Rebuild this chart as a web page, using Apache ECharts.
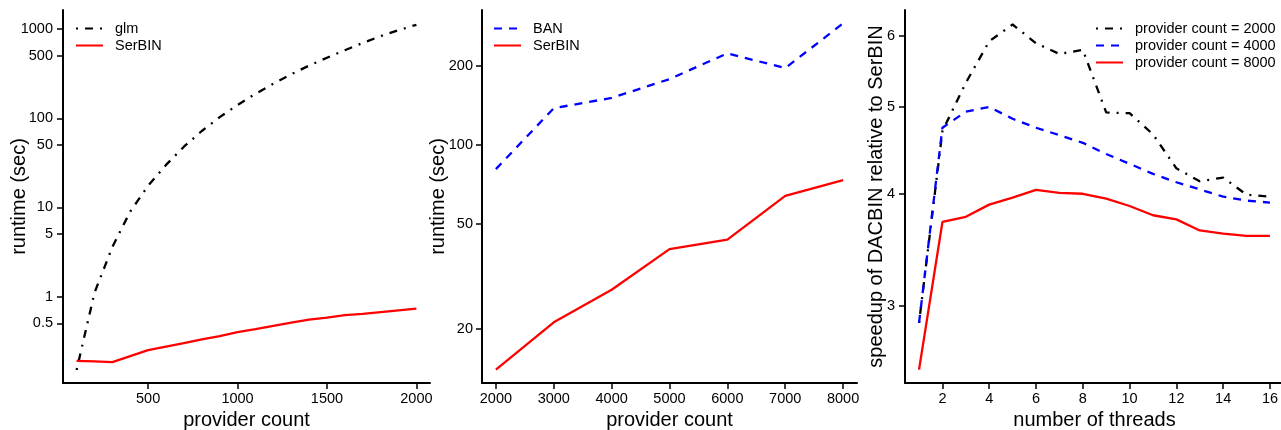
<!DOCTYPE html>
<html>
<head>
<meta charset="utf-8">
<script src="https://cdn.jsdelivr.net/npm/echarts@6/dist/echarts.min.js"></script>
<style>
html, body { margin: 0; padding: 0; background: #fff; }
#main { width: 1281px; height: 430px; }
</style>
</head>
<body>
<div id="main"></div>
<script>
// panel 1: runtime vs provider count (small counts)
const count1 = [100, 200, 300, 400, 500, 600, 700, 800, 900, 1000, 1100, 1200, 1300, 1400, 1500, 1600, 1700, 1800, 1900, 2000]
const glm = [0.15, 1.1, 3.6, 9.0, 17.5, 30, 48, 72, 103, 141, 188, 244, 312, 390, 478, 580, 700, 835, 975, 1120]
const serbin1 = [0.19, 0.187, 0.184, 0.215, 0.25, 0.275, 0.30, 0.33, 0.36, 0.40, 0.43, 0.47, 0.51, 0.55, 0.58, 0.62, 0.64, 0.67, 0.70, 0.73]
const xTicks1 = [500, 1000, 1500, 2000]
const yTicks1 = [0.5, 1, 5, 10, 50, 100, 500, 1000]

// panel 2: runtime vs provider count (large counts)
const count2 = [2000, 3000, 4000, 5000, 6000, 7000, 8000]
const ban = [81, 138, 151, 178, 223, 196, 290]
const serbin2 = [14.0, 21.2, 28.2, 40.2, 43.7, 64.1, 73.5]
const xTicks2 = [2000, 3000, 4000, 5000, 6000, 7000, 8000]
const yTicks2 = [20, 50, 100, 200]

// panel 3: speedup vs threads
const threads = [1, 2, 3, 4, 5, 6, 7, 8, 9, 10, 11, 12, 13, 14, 15, 16]
const speed2000 = [2.87, 4.70, 5.32, 5.92, 6.18, 5.89, 5.73, 5.79, 4.93, 4.92, 4.66, 4.27, 4.13, 4.17, 3.99, 3.97]
const speed4000 = [2.87, 4.74, 4.94, 5.00, 4.85, 4.74, 4.65, 4.56, 4.43, 4.32, 4.21, 4.12, 4.045, 3.97, 3.93, 3.91]
const speed8000 = [2.545, 3.72, 3.77, 3.89, 3.96, 4.04, 4.01, 4.00, 3.95, 3.876, 3.785, 3.745, 3.64, 3.61, 3.59, 3.59]
const xTicks3 = [2, 4, 6, 8, 10, 12, 14, 16]
const yTicks3 = [3, 4, 5, 6]

const font = 'Liberation Sans, Arial, sans-serif'
const dotDash = [2, 7, 8, 7]
const dashed = [8, 7]
const lw = 2.3

const pts = (xs, ys) => xs.map((x, i) => [x, Math.log10(ys[i])])

const logLabel = (ticks) => (v) => {
    let best = ticks[0]
    ticks.forEach((t) => {
        if (Math.abs(Math.log10(t) - v) < Math.abs(Math.log10(best) - v)) best = t
    })
    return String(best)
}

const xAxisOf = (idx, min, max, ticks, name) => ({
    type: 'value', gridIndex: idx, min: min, max: max,
    name: name, nameLocation: 'middle', nameGap: 27, nameMoveOverlap: false,
    nameTextStyle: { fontFamily: font, fontSize: 20, color: '#000' },
    axisLine: { show: true, onZero: false, lineStyle: { color: '#000', width: 2 } },
    axisTick: { show: true, length: 6, customValues: ticks, lineStyle: { color: '#000', width: 1.5 } },
    axisLabel: {
        customValues: ticks, margin: 8, fontFamily: font, fontSize: 14.5, color: '#000',
        formatter: (v) => String(v)
    },
    splitLine: { show: false }
})

const yAxisOf = (idx, min, max, ticks, name, gap, margin) => ({
    type: 'value', gridIndex: idx, min: min, max: max,
    name: name, nameLocation: 'middle', nameGap: gap, nameRotate: 90, nameMoveOverlap: false,
    nameTextStyle: { fontFamily: font, fontSize: 20, color: '#000' },
    axisLine: { show: true, onZero: false, lineStyle: { color: '#000', width: 2 } },
    axisTick: { show: true, length: 6, customValues: ticks.map(Math.log10), lineStyle: { color: '#000', width: 1.5 } },
    axisLabel: {
        customValues: ticks.map(Math.log10), margin: margin,
        fontFamily: font, fontSize: 14.5, color: '#000',
        formatter: logLabel(ticks)
    },
    splitLine: { show: false }
})

const lineOf = (name, idx, data, color, dash) => ({
    name: name, type: 'line', xAxisIndex: idx, yAxisIndex: idx,
    data: data, symbol: 'none', silent: true,
    lineStyle: { color: color, width: lw, type: dash },
    itemStyle: { color: color }
})

const legendOf = (left, names) => ({
    orient: 'vertical', left: left, top: 21, padding: 0,
    itemWidth: 27, itemHeight: 14, itemGap: 2,
    itemStyle: { opacity: 0 },
    data: names,
    textStyle: { fontFamily: font, fontSize: 14.5, color: '#000', lineHeight: 14, padding: [0, 0, 0, 7] }
})

let chart = echarts.init(document.getElementById('main'), null, { renderer: 'canvas' })
let option = {
    animation: false,
    backgroundColor: '#fff',
    grid: [
        { left: 63, top: 10, width: 367, height: 373, outerBoundsMode: 'none', containLabel: false },
        { left: 482, top: 10, width: 375, height: 373, outerBoundsMode: 'none', containLabel: false },
        { left: 905, top: 10, width: 379, height: 373, outerBoundsMode: 'none', containLabel: false }
    ],
    xAxis: [
        xAxisOf(0, 24, 2076, xTicks1, 'provider count'),
        xAxisOf(1, 1760, 8240, xTicks2, 'provider count'),
        xAxisOf(2, 0.4, 16.6, xTicks3, 'number of threads')
    ],
    yAxis: [
        yAxisOf(0, -0.97, 3.215, yTicks1, 'runtime (sec)', 34, 10),
        yAxisOf(1, 1.0957, 2.513, yTicks2, 'runtime (sec)', 34, 9),
        yAxisOf(2, 0.3908, 0.8072, yTicks3, 'speedup of DACBIN relative to SerBIN', 19, 10)
    ],
    legend: [
        legendOf(75, ['glm', 'SerBIN']),
        legendOf(493, ['BAN', 'SerBIN ']),
        legendOf(1095, ['provider count = 2000', 'provider count = 4000', 'provider count = 8000'])
    ],
    series: [
        lineOf('glm', 0, pts(count1, glm), '#000', dotDash),
        lineOf('SerBIN', 0, pts(count1, serbin1), '#ff0000', 'solid'),
        lineOf('BAN', 1, pts(count2, ban), '#0000ff', dashed),
        lineOf('SerBIN ', 1, pts(count2, serbin2), '#ff0000', 'solid'),
        lineOf('provider count = 2000', 2, pts(threads, speed2000), '#000', dotDash),
        lineOf('provider count = 4000', 2, pts(threads, speed4000), '#0000ff', dashed),
        lineOf('provider count = 8000', 2, pts(threads, speed8000), '#ff0000', 'solid')
    ]
}
chart.setOption(option)
</script>
</body>
</html>
